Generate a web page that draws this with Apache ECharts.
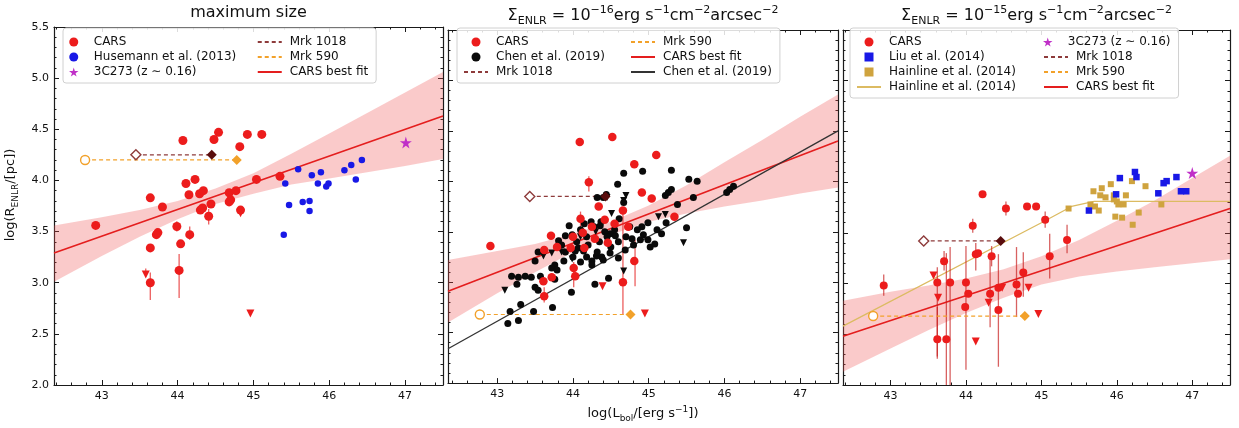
<!DOCTYPE html>
<html><head><meta charset="utf-8">
<script src="https://cdn.jsdelivr.net/npm/echarts@6/dist/echarts.min.js"></script>
<style>html,body{margin:0;padding:0;background:#fff}#c{width:1239px;height:428px}</style>
</head><body><div id="c"></div>
<script>
// ---------- tick labels ----------
const xTicks = [43, 44, 45, 46, 47];
const xMinor = [42.4,42.6,42.8,43.2,43.4,43.6,43.8,44.2,44.4,44.6,44.8,45.2,45.4,45.6,45.8,46.2,46.4,46.6,46.8,47.2,47.4];
const yTicks = [2.0, 2.5, 3.0, 3.5, 4.0, 4.5, 5.0, 5.5];
const yMinor = [2.1,2.2,2.3,2.4,2.6,2.7,2.8,2.9,3.1,3.2,3.3,3.4,3.6,3.7,3.8,3.9,4.1,4.2,4.3,4.4,4.6,4.7,4.8,4.9,5.1,5.2,5.3,5.4];

// ---------- panel 1: maximum size ----------
const p1_cars = [[44.07,4.39],[44.48,4.40],[44.54,4.47],[44.82,4.33],[44.92,4.45],[45.11,4.45],[45.04,4.01],[45.35,4.04],
  [44.11,3.97],[44.23,4.01],[43.64,3.83],[43.80,3.74],[44.15,3.86],[44.29,3.87],[44.34,3.90],[44.33,3.73],[44.44,3.77],
  [44.68,3.88],[44.70,3.81],[44.77,3.90],[44.68,3.79],[44.83,3.71],[44.41,3.65],[42.92,3.56],[43.64,3.34],[43.72,3.47],
  [43.74,3.49],[43.99,3.55],[44.04,3.38],[44.16,3.47],[44.02,3.12],[43.64,3.00],[44.30,3.71]];
const p1_cars_lim = [[43.58,3.08],[44.96,2.70],[44.83,3.68]];
const p1_cars_err = [[43.64,2.83,3.10],[44.02,2.85,3.28],[44.41,3.57,3.72],[44.16,3.42,3.55],[43.99,3.50,3.60],[43.58,3.06,3.14]];
const p1_huse = [[45.59,4.11],[45.42,3.97],[45.77,4.05],[45.89,4.08],[45.85,3.97],[45.99,3.97],[45.96,3.94],[45.47,3.76],
  [45.65,3.79],[45.74,3.80],[45.74,3.70],[46.20,4.10],[46.29,4.15],[46.43,4.20],[46.35,4.01],[45.40,3.47]];
const p1_3c273 = [[47.01,4.37]];
const p1_mrk1018 = [[43.45,4.25],[44.45,4.25]];
const p1_mrk590 = [[42.78,4.20],[44.78,4.20]];
const p1_fit = [[42.37,3.29],[47.5,4.63]];
const p1_band = [[42.37,3.01,3.56],[43.0,3.26,3.64],[43.5,3.45,3.71],[44.0,3.62,3.80],[44.5,3.77,3.92],[45.0,3.87,4.07],
  [45.5,3.96,4.26],[46.0,4.02,4.46],[46.5,4.08,4.66],[47.0,4.14,4.86],[47.5,4.21,5.06]];

// ---------- panel 2: 1e-16 ----------
const p2_cars = [[44.09,4.39],[44.52,4.44],[45.10,4.26],[44.81,4.17],[44.21,3.99],[44.91,3.89],[45.04,3.83],[44.34,3.75],
  [44.66,3.71],[44.10,3.63],[44.42,3.62],[44.73,3.55],[45.34,3.65],[43.71,3.46],[42.91,3.36],[43.62,3.32],[43.79,3.35],
  [44.13,3.49],[43.97,3.34],[44.15,3.34],[44.29,3.43],[44.46,3.39],[44.81,3.21],[44.01,3.14],[43.72,3.05],[43.61,3.01],
  [43.62,2.86],[44.03,3.06],[44.66,3.00],[44.25,3.55],[44.55,3.58],[44.00,3.45]];
const p2_cars_lim = [[44.39,2.96],[44.95,2.69]];
const p2_cars_err = [[44.66,2.68,3.74],[44.82,2.96,3.42],[44.01,2.95,3.20],[43.62,2.80,2.95],[44.10,3.52,3.70],[44.21,3.90,4.05]];
const p2_chen = [[44.32,3.84],[44.40,3.84],[44.24,3.60],[44.37,3.60],[43.81,3.41],[43.90,3.46],[43.99,3.47],[43.54,3.30],
  [43.50,3.21],[43.76,3.17],[43.72,3.14],[43.79,3.12],[43.88,3.21],[44.07,3.34],[44.14,3.31],[44.18,3.25],[44.25,3.21],
  [44.31,3.26],[44.38,3.25],[43.19,3.06],[43.28,3.05],[43.37,3.06],[43.45,3.05],[43.26,2.98],[43.57,3.06],[43.50,2.95],
  [43.54,2.92],[43.98,2.90],[44.29,2.98],[43.31,2.78],[43.17,2.71],[43.48,2.71],[43.73,2.75],[43.14,2.59],[43.28,2.62],
  [43.76,3.03],[44.20,3.37],[44.03,3.31],[43.85,3.37],[44.67,4.08],[44.92,4.10],[45.30,4.11],[44.59,3.97],[45.53,4.02],
  [45.64,4.00],[45.22,3.86],[45.26,3.89],[45.30,3.92],[44.67,3.79],[45.59,3.84],[45.38,3.77],[46.03,3.89],[46.07,3.92],
  [46.12,3.95],[44.61,3.63],[44.99,3.59],[44.91,3.55],[45.11,3.52],[45.17,3.48],[45.23,3.59],[45.50,3.54],[44.36,3.56],
  [44.49,3.48],[44.56,3.46],[44.89,3.42],[44.99,3.42],[45.02,3.35],[45.08,3.38],[44.80,3.37],[44.69,3.32],[44.32,3.30],
  [44.49,3.29],[44.60,3.24],[44.40,3.22],[44.25,3.17],[44.47,3.04],[44.78,3.43],[44.93,3.47],[44.44,3.87],[44.10,3.52],
  [44.18,3.45],[44.05,3.40],[44.35,3.40],[44.42,3.50],[44.28,3.55],[44.15,3.58],[43.95,3.56],[44.45,3.45],[44.55,3.52],
  [44.60,3.40],[44.50,3.35],[44.70,3.45],[44.75,3.55],[44.85,3.52],[43.90,3.30],[44.00,3.25],[44.10,3.20]];
const p2_chen_lim = [[43.61,3.26],[43.72,3.29],[43.99,3.23],[43.10,2.92],[44.45,3.84],[44.70,3.86],[44.51,3.68],[45.22,3.67],
  [45.13,3.65],[45.46,3.39],[44.67,3.11],[44.67,3.81],[44.10,3.45],[44.30,3.50],[43.85,3.30]];
const p2_mrk1018 = [[43.43,3.85],[44.43,3.85]];
const p2_mrk590 = [[42.77,2.68],[44.76,2.68]];
const p2_fit = [[42.35,2.91],[47.5,4.40]];
const p2_chenfit = [[42.35,2.34],[47.5,4.50]];
const p2_band = [[42.35,2.60,3.22],[43.0,2.89,3.31],[43.5,3.10,3.38],[44.0,3.30,3.48],[44.5,3.47,3.60],[45.0,3.60,3.76],
  [45.5,3.68,3.96],[46.0,3.75,4.19],[46.5,3.81,4.41],[47.0,3.88,4.64],[47.5,3.94,4.86]];

// ---------- panel 3: 1e-15 ----------
const p3_cars = [[42.91,2.98],[44.22,3.88],[44.53,3.74],[44.81,3.76],[44.93,3.76],[45.05,3.63],[44.09,3.57],[44.13,3.29],
  [44.16,3.30],[44.34,3.27],[45.11,3.27],[43.71,3.22],[43.62,3.01],[43.79,3.01],[44.00,3.01],[44.03,2.90],[43.99,2.77],
  [44.32,2.90],[44.43,2.96],[44.43,2.74],[44.67,2.99],[44.76,3.11],[44.69,2.90],[43.62,2.45],[43.74,2.45],[45.34,3.43]];
const p3_cars_lim = [[43.57,3.08],[43.63,2.86],[44.30,2.81],[44.48,2.96],[44.83,2.96],[44.96,2.70],[44.13,2.43]];
const p3_cars_err = [[42.91,2.88,3.09],[44.53,3.67,3.81],[45.05,3.55,3.71],[44.09,3.50,3.64],[44.13,3.13,3.40],[44.34,3.17,3.37],
  [45.11,3.05,3.49],[43.71,3.13,3.32],[43.62,2.28,3.16],[43.79,2.00,3.36],[44.00,2.15,3.37],[44.32,2.57,3.26],[44.43,2.18,3.29],
  [44.67,2.67,3.36],[44.76,2.87,3.31],[43.62,2.26,2.77],[43.74,2.00,3.30],[45.34,3.30,3.58]];
const p3_liu = [[46.04,4.04],[46.24,4.10],[46.26,4.05],[45.99,3.88],[45.63,3.72],[46.55,3.89],[46.62,3.99],[46.66,4.01],
  [46.79,4.05],[46.85,3.91],[46.92,3.91]];
const p3_hain = [[45.36,3.74],[45.69,3.91],[45.80,3.94],[45.92,3.98],[45.78,3.87],[45.85,3.85],[45.96,3.83],[46.00,3.81],
  [46.02,3.78],[46.09,3.78],[46.12,3.87],[46.20,4.01],[46.38,3.96],[45.65,3.78],[45.76,3.72],[46.29,3.70],[45.98,3.66],
  [46.07,3.65],[46.21,3.58],[46.59,3.78],[45.96,3.87],[45.71,3.76]];
const p3_3c273 = [[47.00,4.09]];
const p3_mrk1018 = [[43.44,3.42],[44.46,3.42]];
const p3_mrk590 = [[42.77,2.68],[44.78,2.68]];
const p3_fit = [[42.37,2.48],[47.5,3.74]];
const p3_hainfit = [[42.37,2.58],[45.0,3.60],[45.4,3.76],[45.7,3.81],[47.5,3.81]];
const p3_band = [[42.37,2.13,2.83],[43.0,2.36,2.92],[43.5,2.54,2.98],[44.0,2.71,3.05],[44.5,2.86,3.14],[45.0,2.99,3.27],
  [45.5,3.07,3.43],[46.0,3.12,3.62],[46.5,3.16,3.82],[47.0,3.20,4.04],[47.5,3.24,4.26]];

// ---------- styling ----------
const F = 'DejaVu Sans';
const RED = '#ec1c1c', BLUE = '#1818e6', MAG = '#c030c8', BLK = '#0a0a0a';
const M1018 = '#8e3b3b', M1018D = '#5a0d0d', M590 = '#f2a12a', TAN = '#cfa33e', TANL = '#dcbb62';
const STAR = 'path://M50,0 L61,35 L98,35 L68,57 L79,91 L50,70 L21,91 L32,57 L2,35 L39,35 Z';
const SQUARE = 'path://M0,0 L10,0 L10,10 L0,10 Z';
const grids = [
  {left: 54, top: 26, width: 389, height: 359},
  {left: 448, top: 26, width: 390, height: 359},
  {left: 843, top: 26, width: 387, height: 359}
];
const xRanges = [[42.37, 47.5], [42.35, 47.5], [42.37, 47.5]];
const richT = {
  n: {fontFamily: F, fontSize: 16, lineHeight: 22, color: '#111'},
  sub: {fontFamily: F, fontSize: 11, lineHeight: 12, verticalAlign: 'bottom', color: '#111'},
  sup: {fontFamily: F, fontSize: 11, lineHeight: 12, verticalAlign: 'top', color: '#111'}
};
const richA = {
  n: {fontFamily: F, fontSize: 13, lineHeight: 18, color: '#111'},
  sub: {fontFamily: F, fontSize: 9, lineHeight: 10, verticalAlign: 'bottom', color: '#111'},
  sup: {fontFamily: F, fontSize: 9, lineHeight: 10, verticalAlign: 'top', color: '#111'}
};
const titles = [
  '{n|maximum size}',
  '{n|Σ}{sub|ENLR}{n| = 10}{sup|−16}{n|erg s}{sup|−1}{n|cm}{sup|−2}{n|arcsec}{sup|−2}',
  '{n|Σ}{sub|ENLR}{n| = 10}{sup|−15}{n|erg s}{sup|−1}{n|cm}{sup|−2}{n|arcsec}{sup|−2}'
];

const xAxes = [], yAxes = [];
const lineC = {color: '#1a1a1a', width: 1.2};
grids.forEach((g, i) => {
  const bx = {gridIndex: i, type: 'value', min: xRanges[i][0], max: xRanges[i][1], splitLine: {show: false}, axisPointer: {show: false}};
  const by = {gridIndex: i, type: 'value', min: 2.0, max: 5.5, splitLine: {show: false}, axisPointer: {show: false}};
  xAxes.push(Object.assign({}, bx, {position: 'bottom',
    axisLine: {show: true, onZero: false, lineStyle: lineC},
    axisTick: {inside: true, length: 5, customValues: xTicks, lineStyle: {color: '#1a1a1a'}},
    axisLabel: {customValues: xTicks, margin: 6, fontSize: 11, fontFamily: F, color: '#111'},
    name: i === 1 ? '{n|log(L}{sub|bol}{n|/[erg s}{sup|−1}{n|])}' : '',
    nameLocation: 'middle', nameGap: 17, nameTextStyle: {rich: richA}}));
  xAxes.push(Object.assign({}, bx, {position: 'bottom', axisLine: {show: false, onZero: false},
    axisTick: {inside: true, length: 2.5, customValues: xMinor, lineStyle: {color: '#1a1a1a'}}, axisLabel: {show: false}}));
  xAxes.push(Object.assign({}, bx, {position: 'top',
    axisLine: {show: true, onZero: false, lineStyle: lineC},
    axisTick: {inside: true, length: 5, customValues: xTicks, lineStyle: {color: '#1a1a1a'}},
    axisLabel: {show: false}, name: titles[i], nameLocation: 'middle', nameGap: 3, nameTextStyle: {rich: richT}}));
  xAxes.push(Object.assign({}, bx, {position: 'top', axisLine: {show: false, onZero: false},
    axisTick: {inside: true, length: 2.5, customValues: xMinor, lineStyle: {color: '#1a1a1a'}}, axisLabel: {show: false}}));
  yAxes.push(Object.assign({}, by, {position: 'left',
    axisLine: {show: true, onZero: false, lineStyle: lineC},
    axisTick: {inside: true, length: 5, customValues: yTicks, lineStyle: {color: '#1a1a1a'}},
    axisLabel: {show: i === 0, customValues: yTicks, margin: 5, fontSize: 11, fontFamily: F, color: '#111',
      formatter: v => Number(v).toFixed(1)},
    name: i === 0 ? '{n|log(R}{sub|ENLR}{n|/[pc])}' : '',
    nameLocation: 'middle', nameGap: 34, nameTextStyle: {rich: richA, padding: [0, 0, 0, 22]}}));
  yAxes.push(Object.assign({}, by, {position: 'left', axisLine: {show: false, onZero: false},
    axisTick: {inside: true, length: 2.5, customValues: yMinor, lineStyle: {color: '#1a1a1a'}}, axisLabel: {show: false}}));
  yAxes.push(Object.assign({}, by, {position: 'right',
    axisLine: {show: true, onZero: false, lineStyle: lineC},
    axisTick: {inside: true, length: 5, customValues: yTicks, lineStyle: {color: '#1a1a1a'}}, axisLabel: {show: false}}));
  yAxes.push(Object.assign({}, by, {position: 'right', axisLine: {show: false, onZero: false},
    axisTick: {inside: true, length: 2.5, customValues: yMinor, lineStyle: {color: '#1a1a1a'}}, axisLabel: {show: false}}));
});

function ax(g) { return {xAxisIndex: g * 4, yAxisIndex: g * 4}; }
function sc(g, name, data, symbol, size, style, extra) {
  return Object.assign({type: 'scatter', name, data, symbol, symbolSize: size,
    itemStyle: Object.assign({opacity: 1}, style), silent: true, z: 5}, ax(g), extra || {});
}
function ln(g, name, data, color, width, type, z) {
  return Object.assign({type: 'line', name, data, symbol: 'none', showSymbol: false, silent: true, z: z || 2,
    lineStyle: {color, width, type: type || 'solid'}, itemStyle: {color}}, ax(g));
}
function band(g, arr) {
  return Object.assign({type: 'custom', name: 'band' + g, silent: true, z: 1, clip: true,
    data: [[arr[0][0], arr[0][1]]],
    renderItem(params, api) {
      const up = arr.map(d => api.coord([d[0], d[2]]));
      const lo = arr.slice().reverse().map(d => api.coord([d[0], d[1]]));
      return {type: 'polygon', shape: {points: up.concat(lo)}, style: {fill: 'rgba(238,80,80,0.3)'}};
    }}, ax(g));
}
function err(g, arr, color, w) {
  return Object.assign({type: 'custom', name: 'err' + g, silent: true, z: 3, clip: true, data: arr, encode: {x: 0, y: [1, 2]},
    renderItem(params, api) {
      const a = api.coord([api.value(0), api.value(1)]);
      const b = api.coord([api.value(0), api.value(2)]);
      return {type: 'line', shape: {x1: a[0], y1: a[1], x2: b[0], y2: b[1]}, style: {stroke: color, lineWidth: w}};
    }}, ax(g));
}
function mrk(g, m1018, m590) {
  return [
    ln(g, 'Mrk 1018', m1018, M1018, 1.2, [4, 3], 4),
    ln(g, 'Mrk 590', m590, M590, 1.2, [4, 3], 4),
    sc(g, 'm1018a', [m1018[0]], 'diamond', 10, {color: '#fff', borderColor: M1018, borderWidth: 1.4}, {z: 6}),
    sc(g, 'm1018b', [m1018[1]], 'diamond', 10, {color: M1018D}, {z: 6}),
    sc(g, 'm590a', [m590[0]], 'circle', 9, {color: '#fff', borderColor: M590, borderWidth: 1.4}, {z: 6}),
    sc(g, 'm590b', [m590[1]], 'diamond', 10, {color: M590}, {z: 6})
  ];
}
const CHEN_LINE = 'Chen et al. (2019)\u200b';
const HAIN_LINE = 'Hainline et al. (2014)\u200b';
const S3C = '3C273 (z ∼ 0.16)';
const LINE_NAMES = new Set(['Mrk 1018', 'Mrk 590', 'CARS best fit', CHEN_LINE, HAIN_LINE]);

const series = [
  // panel 1
  band(0, p1_band),
  ln(0, 'CARS best fit', p1_fit, '#e41e1e', 1.6),
  err(0, p1_cars_err, 'rgba(230,40,40,0.75)', 1.3),
  sc(0, 'Husemann et al. (2013)', p1_huse, 'circle', 6.5, {color: BLUE}),
  sc(0, 'CARS', p1_cars, 'circle', 9, {color: RED}),
  sc(0, 'cars_lim0', p1_cars_lim, 'triangle', 8, {color: RED}, {symbolRotate: 180}),
  sc(0, S3C, p1_3c273, STAR, 12, {color: MAG}),
  ...mrk(0, p1_mrk1018, p1_mrk590),
  // panel 2
  band(1, p2_band),
  ln(1, 'CARS best fit', p2_fit, '#e41e1e', 1.6),
  ln(1, CHEN_LINE, p2_chenfit, '#333', 1.3),
  err(1, p2_cars_err, 'rgba(230,40,40,0.75)', 1.3),
  sc(1, 'Chen et al. (2019)', p2_chen, 'circle', 7, {color: BLK}),
  sc(1, 'chen_lim', p2_chen_lim, 'triangle', 7, {color: BLK}, {symbolRotate: 180}),
  sc(1, 'CARS', p2_cars, 'circle', 8.5, {color: RED}),
  sc(1, 'cars_lim1', p2_cars_lim, 'triangle', 8, {color: RED}, {symbolRotate: 180}),
  ...mrk(1, p2_mrk1018, p2_mrk590),
  // panel 3
  band(2, p3_band),
  ln(2, 'CARS best fit', p3_fit, '#e41e1e', 1.6),
  ln(2, HAIN_LINE, p3_hainfit, TANL, 1.3),
  err(2, p3_cars_err, 'rgba(200,30,30,0.7)', 1.3),
  sc(2, 'Hainline et al. (2014)', p3_hain, SQUARE, 6, {color: TAN}),
  sc(2, 'Liu et al. (2014)', p3_liu, SQUARE, 6.5, {color: BLUE}),
  sc(2, 'CARS', p3_cars, 'circle', 8, {color: RED}),
  sc(2, 'cars_lim2', p3_cars_lim, 'triangle', 8, {color: RED}, {symbolRotate: 180}),
  sc(2, S3C, p3_3c273, STAR, 12, {color: MAG}),
  ...mrk(2, p3_mrk1018, p3_mrk590)
];

function legend(left, width, col1W, names, col1) {
  const set = new Set(col1);
  const data = names.map(n => LINE_NAMES.has(n)
    ? {name: n, itemStyle: {opacity: 0, color: 'rgba(0,0,0,0)', borderWidth: 0}}
    : {name: n});
  return {
    left, top: 28, width, orient: 'horizontal', itemWidth: 24, itemHeight: 9, itemGap: 3,
    padding: [8, 8, 5, 6], borderColor: '#d0d0d0', borderWidth: 1, borderRadius: 3,
    backgroundColor: 'rgba(255,255,255,0.85)', selectedMode: false, data,
    formatter: name => (set.has(name) ? '{a|' + name + '}' : '{b|' + name + '}'),
    textStyle: {fontFamily: F, fontSize: 12, color: '#111',
      rich: {a: {fontFamily: F, fontSize: 12, lineHeight: 15, width: col1W, padding: [0, 0, 0, 3], color: '#111'},
             b: {fontFamily: F, fontSize: 12, lineHeight: 15, padding: [0, 0, 0, 3], color: '#111'}}}
  };
}

const option = {
  animation: false,
  textStyle: {fontFamily: F},
  grid: grids,
  xAxis: xAxes,
  yAxis: yAxes,
  legend: [
    legend(63, 360, 160, ['CARS', 'Mrk 1018', 'Husemann et al. (2013)', 'Mrk 590', S3C, 'CARS best fit'],
      ['CARS', 'Husemann et al. (2013)', S3C]),
    legend(457, 330, 131, ['CARS', 'Mrk 590', 'Chen et al. (2019)', 'CARS best fit', 'Mrk 1018', CHEN_LINE],
      ['CARS', 'Chen et al. (2019)', 'Mrk 1018']),
    legend(850, 345, 151, ['CARS', S3C, 'Liu et al. (2014)', 'Mrk 1018', 'Hainline et al. (2014)', 'Mrk 590', HAIN_LINE, 'CARS best fit'],
      ['CARS', 'Liu et al. (2014)', 'Hainline et al. (2014)', HAIN_LINE])
  ],
  series
};
const chart = echarts.init(document.getElementById('c'), null, {renderer: 'canvas'});
chart.setOption(option);
</script>
</body></html>
